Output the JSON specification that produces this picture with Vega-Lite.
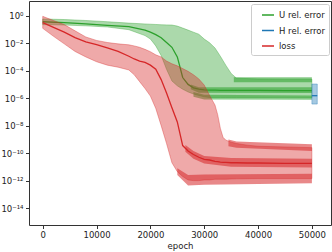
{
  "$schema": "https://vega.github.io/schema/vega-lite/v6.json",
  "width": 302,
  "height": 224,
  "autosize": {"type": "none"},
  "padding": {"left": 29, "top": 1, "right": 1, "bottom": 27},
  "config": {
    "font": "DejaVu Sans",
    "view": {"stroke": "#333", "strokeWidth": 1},
    "axis": {"labelFontSize": 8.5, "labelColor": "#222", "tickColor": "#333", "tickSize": 3.5, "domain": false, "grid": false, "titleFontSize": 8.5, "titleFontWeight": "normal", "titleColor": "#222"},
    "legend": {"labelFontSize": 8.5, "labelColor": "#222"}
  },
  "datasets": {
    "b": [
      {"s":"U rel. error","e":0,"lo":0.224,"mid":0.363,"hi":0.575},
      {"s":"U rel. error","e":4000,"lo":0.209,"mid":0.316,"hi":0.525},
      {"s":"U rel. error","e":8000,"lo":0.182,"mid":0.251,"hi":0.447},
      {"s":"U rel. error","e":12000,"lo":0.151,"mid":0.2,"hi":0.363},
      {"s":"U rel. error","e":16000,"lo":0.0955,"mid":0.158,"hi":0.288},
      {"s":"U rel. error","e":19000,"lo":0.0355,"mid":0.0891,"hi":0.251},
      {"s":"U rel. error","e":20000,"lo":0.02,"mid":0.0631,"hi":0.24},
      {"s":"U rel. error","e":21000,"lo":0.00631,"mid":0.0417,"hi":0.229},
      {"s":"U rel. error","e":22000,"lo":0.00126,"mid":0.0251,"hi":0.219},
      {"s":"U rel. error","e":23000,"lo":1.26e-4,"mid":0.0112,"hi":0.214},
      {"s":"U rel. error","e":24000,"lo":1.78e-5,"mid":0.00501,"hi":0.209},
      {"s":"U rel. error","e":25000,"lo":7.94e-6,"mid":0.001,"hi":0.174},
      {"s":"U rel. error","e":26000,"lo":4.47e-6,"mid":3.16e-5,"hi":0.126},
      {"s":"U rel. error","e":27000,"lo":2.82e-6,"mid":1e-5,"hi":0.0891},
      {"s":"U rel. error","e":28000,"lo":2.0e-6,"mid":5.62e-6,"hi":0.0631},
      {"s":"U rel. error","e":29000,"lo":1.58e-6,"mid":4.47e-6,"hi":0.0447},
      {"s":"U rel. error","e":30000,"lo":1.26e-6,"mid":3.98e-6,"hi":0.02},
      {"s":"U rel. error","e":31000,"lo":1.12e-6,"mid":3.8e-6,"hi":0.0107},
      {"s":"U rel. error","e":32000,"lo":1.12e-6,"mid":3.8e-6,"hi":0.00447},
      {"s":"U rel. error","e":33000,"lo":1.12e-6,"mid":3.72e-6,"hi":0.00112},
      {"s":"U rel. error","e":34000,"lo":1.12e-6,"mid":3.72e-6,"hi":2.51e-4},
      {"s":"U rel. error","e":35000,"lo":1.12e-6,"mid":3.72e-6,"hi":6.31e-5},
      {"s":"U rel. error","e":36000,"lo":1.12e-6,"mid":3.63e-6,"hi":2.82e-5},
      {"s":"U rel. error","e":40000,"lo":1.12e-6,"mid":3.63e-6,"hi":2.51e-5},
      {"s":"U rel. error","e":45000,"lo":1.1e-6,"mid":3.55e-6,"hi":2.4e-5},
      {"s":"U rel. error","e":50000,"lo":1.07e-6,"mid":3.55e-6,"hi":2.4e-5},
      {"s":"H rel. error","e":50000,"lo":3.72e-7,"mid":1.51e-6,"hi":1.07e-5},
      {"s":"H rel. error","e":51000,"lo":3.72e-7,"mid":1.51e-6,"hi":1.07e-5},
      {"s":"loss","e":0,"lo":0.12,"mid":0.316,"hi":0.891},
      {"s":"loss","e":2000,"lo":0.0316,"mid":0.141,"hi":0.447},
      {"s":"loss","e":4000,"lo":0.00891,"mid":0.0631,"hi":0.224},
      {"s":"loss","e":6000,"lo":0.00251,"mid":0.0251,"hi":0.0794},
      {"s":"loss","e":8000,"lo":0.001,"mid":0.0126,"hi":0.0282},
      {"s":"loss","e":10000,"lo":4.47e-4,"mid":0.00794,"hi":0.0158},
      {"s":"loss","e":12000,"lo":2.51e-4,"mid":0.00447,"hi":0.0112},
      {"s":"loss","e":14000,"lo":1.78e-4,"mid":0.00251,"hi":0.00891},
      {"s":"loss","e":16000,"lo":1.12e-4,"mid":0.00112,"hi":0.00759},
      {"s":"loss","e":17000,"lo":5.01e-5,"mid":7.08e-4,"hi":0.00631},
      {"s":"loss","e":18000,"lo":1.58e-5,"mid":5.01e-4,"hi":0.00501},
      {"s":"loss","e":19000,"lo":5.01e-6,"mid":3.98e-4,"hi":0.00355},
      {"s":"loss","e":20000,"lo":1.41e-6,"mid":2.51e-4,"hi":0.0024},
      {"s":"loss","e":21000,"lo":1.78e-7,"mid":1.26e-4,"hi":0.00141},
      {"s":"loss","e":22000,"lo":1e-8,"mid":2.24e-5,"hi":0.001},
      {"s":"loss","e":23000,"lo":5.01e-10,"mid":2.34e-6,"hi":5.01e-4},
      {"s":"loss","e":24000,"lo":2.0e-11,"mid":2.0e-7,"hi":3.16e-4},
      {"s":"loss","e":25000,"lo":4.47e-12,"mid":1.86e-8,"hi":2.24e-4},
      {"s":"loss","e":26000,"lo":2.0e-12,"mid":3.55e-10,"hi":1.41e-4},
      {"s":"loss","e":27000,"lo":1.12e-12,"mid":1.41e-10,"hi":8.91e-5},
      {"s":"loss","e":28000,"lo":1e-12,"mid":7.94e-11,"hi":5.01e-5},
      {"s":"loss","e":29000,"lo":1e-12,"mid":5.01e-11,"hi":2.51e-5},
      {"s":"loss","e":30000,"lo":1.12e-12,"mid":3.55e-11,"hi":8.91e-6},
      {"s":"loss","e":31000,"lo":1.12e-12,"mid":3.16e-11,"hi":1.58e-6},
      {"s":"loss","e":32000,"lo":1.26e-12,"mid":2.51e-11,"hi":3.16e-7},
      {"s":"loss","e":32500,"lo":1.26e-12,"mid":2.4e-11,"hi":6.31e-8},
      {"s":"loss","e":33000,"lo":1.26e-12,"mid":2.24e-11,"hi":6.31e-9},
      {"s":"loss","e":33500,"lo":1.26e-12,"mid":2.14e-11,"hi":1.41e-9},
      {"s":"loss","e":34000,"lo":1.26e-12,"mid":2.09e-11,"hi":8.91e-10},
      {"s":"loss","e":35000,"lo":1.32e-12,"mid":2.0e-11,"hi":6.31e-10},
      {"s":"loss","e":36000,"lo":1.35e-12,"mid":2.0e-11,"hi":5.01e-10},
      {"s":"loss","e":38000,"lo":1.38e-12,"mid":1.91e-11,"hi":3.8e-10},
      {"s":"loss","e":40000,"lo":1.41e-12,"mid":1.91e-11,"hi":3.16e-10},
      {"s":"loss","e":45000,"lo":1.41e-12,"mid":1.82e-11,"hi":2.82e-10},
      {"s":"loss","e":50000,"lo":1.41e-12,"mid":1.78e-11,"hi":2.51e-10}
    ],
    "n": [
      {"s":"U rel. error","k":"Uu","e":35500,"a":3.31e-5,"b":1.41e-5},
      {"s":"U rel. error","k":"Uu","e":50000,"a":3.31e-5,"b":1.41e-5},
      {"s":"U rel. error","k":"Um","e":27500,"a":1e-5,"b":4.47e-6},
      {"s":"U rel. error","k":"Um","e":29000,"a":6.31e-6,"b":2.51e-6},
      {"s":"U rel. error","k":"Um","e":50000,"a":6.31e-6,"b":2.4e-6},
      {"s":"U rel. error","k":"Ul","e":28000,"a":2.82e-6,"b":1.26e-6},
      {"s":"U rel. error","k":"Ul","e":30000,"a":1.78e-6,"b":7.94e-7},
      {"s":"U rel. error","k":"Ul","e":50000,"a":1.58e-6,"b":7.59e-7},
      {"s":"loss","k":"Lu","e":34500,"a":1e-9,"b":3.16e-10},
      {"s":"loss","k":"Lu","e":36000,"a":7.08e-10,"b":2.51e-10},
      {"s":"loss","k":"Lu","e":50000,"a":4.47e-10,"b":1.41e-10},
      {"s":"loss","k":"Lm","e":26500,"a":3.98e-10,"b":1.26e-10},
      {"s":"loss","k":"Lm","e":28000,"a":1.41e-10,"b":3.98e-11},
      {"s":"loss","k":"Lm","e":30000,"a":6.31e-11,"b":1.78e-11},
      {"s":"loss","k":"Lm","e":35000,"a":4.47e-11,"b":1e-11},
      {"s":"loss","k":"Lm","e":50000,"a":3.98e-11,"b":8.91e-12},
      {"s":"loss","k":"Ll","e":25000,"a":7.94e-12,"b":2.51e-12},
      {"s":"loss","k":"Ll","e":27000,"a":2.51e-12,"b":4.47e-13},
      {"s":"loss","k":"Ll","e":30000,"a":2.82e-12,"b":5.01e-13},
      {"s":"loss","k":"Ll","e":50000,"a":3.16e-12,"b":6.31e-13}
    ]
  },
  "encoding": {
    "x": {"field": "e", "type": "quantitative",
      "scale": {"domain": [-2550, 53550], "nice": false, "zero": false},
      "axis": {"title": "epoch", "values": [0, 10000, 20000, 30000, 40000, 50000], "format": "d", "labelPadding": 2, "titlePadding": 2, "labelFlush": false}}
  },
  "layer": [
    {
      "data": {"name": "b"},
      "transform": [{"filter": "datum.s == 'U rel. error'"}],
      "mark": {"type": "area", "fill": "#2ca02c", "fillOpacity": 0.4, "stroke": "#2ca02c", "strokeOpacity": 0.45, "strokeWidth": 0.8},
      "encoding": {
        "y": {"field": "lo", "type": "quantitative",
          "scale": {"type": "log", "domain": [5.9e-16, 11.7], "nice": false},
          "axis": {"title": null, "values": [1, 0.01, 1e-4, 1e-6, 1e-8, 1e-10, 1e-12, 1e-14], "labelPadding": 2.5,
            "labelExpr": "'10' + replace(replace(replace(replace(replace(replace(replace('' + round(log(datum.value)/LN10), '-', '⁻'), '0', '⁰'), '1', '¹'), '2', '²'), '4', '⁴'), '6', '⁶'), '8', '⁸')"}},
        "y2": {"field": "hi"}
      }
    },
    {
      "data": {"name": "b"},
      "transform": [{"filter": "datum.s == 'U rel. error'"}],
      "mark": {"type": "line", "strokeWidth": 1.3},
      "encoding": {
        "y": {"field": "mid", "type": "quantitative"},
        "color": {"field": "s", "type": "nominal", "sort": null,
          "scale": {"domain": ["U rel. error", "H rel. error", "loss"], "range": ["#2ca02c", "#1f77b4", "#d62728"]},
          "legend": {"title": null, "orient": "none", "legendX": 222, "legendY": 3, "symbolType": "stroke", "symbolSize": 144, "symbolStrokeWidth": 1.5, "padding": 4, "symbolOffset": 6, "labelOffset": 4, "rowPadding": 3.5, "fillColor": "white", "strokeColor": "#ccc", "cornerRadius": 2}}
      }
    },
    {
      "data": {"name": "n"},
      "transform": [{"filter": "datum.s == 'U rel. error'"}],
      "mark": {"type": "area", "fill": "#2ca02c", "fillOpacity": 0.55},
      "encoding": {
        "y": {"field": "a", "type": "quantitative"},
        "y2": {"field": "b"},
        "detail": {"field": "k"}
      }
    },
    {
      "data": {"name": "b"},
      "transform": [{"filter": "datum.s == 'H rel. error'"}],
      "mark": {"type": "area", "fill": "#1f77b4", "fillOpacity": 0.4, "stroke": "#1f77b4", "strokeOpacity": 0.45, "strokeWidth": 0.8},
      "encoding": {
        "y": {"field": "lo", "type": "quantitative"},
        "y2": {"field": "hi"}
      }
    },
    {
      "data": {"name": "b"},
      "transform": [{"filter": "datum.s == 'H rel. error'"}],
      "mark": {"type": "line", "strokeWidth": 1.3},
      "encoding": {
        "y": {"field": "mid", "type": "quantitative"},
        "color": {"field": "s", "type": "nominal", "sort": null,
          "scale": {"domain": ["U rel. error", "H rel. error", "loss"], "range": ["#2ca02c", "#1f77b4", "#d62728"]}}
      }
    },
    {
      "data": {"name": "b"},
      "transform": [{"filter": "datum.s == 'loss'"}],
      "mark": {"type": "area", "fill": "#d62728", "fillOpacity": 0.4, "stroke": "#d62728", "strokeOpacity": 0.45, "strokeWidth": 0.8},
      "encoding": {
        "y": {"field": "lo", "type": "quantitative"},
        "y2": {"field": "hi"}
      }
    },
    {
      "data": {"name": "b"},
      "transform": [{"filter": "datum.s == 'loss'"}],
      "mark": {"type": "line", "strokeWidth": 1.3},
      "encoding": {
        "y": {"field": "mid", "type": "quantitative"},
        "color": {"field": "s", "type": "nominal", "sort": null,
          "scale": {"domain": ["U rel. error", "H rel. error", "loss"], "range": ["#2ca02c", "#1f77b4", "#d62728"]}}
      }
    },
    {
      "data": {"name": "n"},
      "transform": [{"filter": "datum.s == 'loss'"}],
      "mark": {"type": "area", "fill": "#d62728", "fillOpacity": 0.55},
      "encoding": {
        "y": {"field": "a", "type": "quantitative"},
        "y2": {"field": "b"},
        "detail": {"field": "k"}
      }
    }
  ]
}
